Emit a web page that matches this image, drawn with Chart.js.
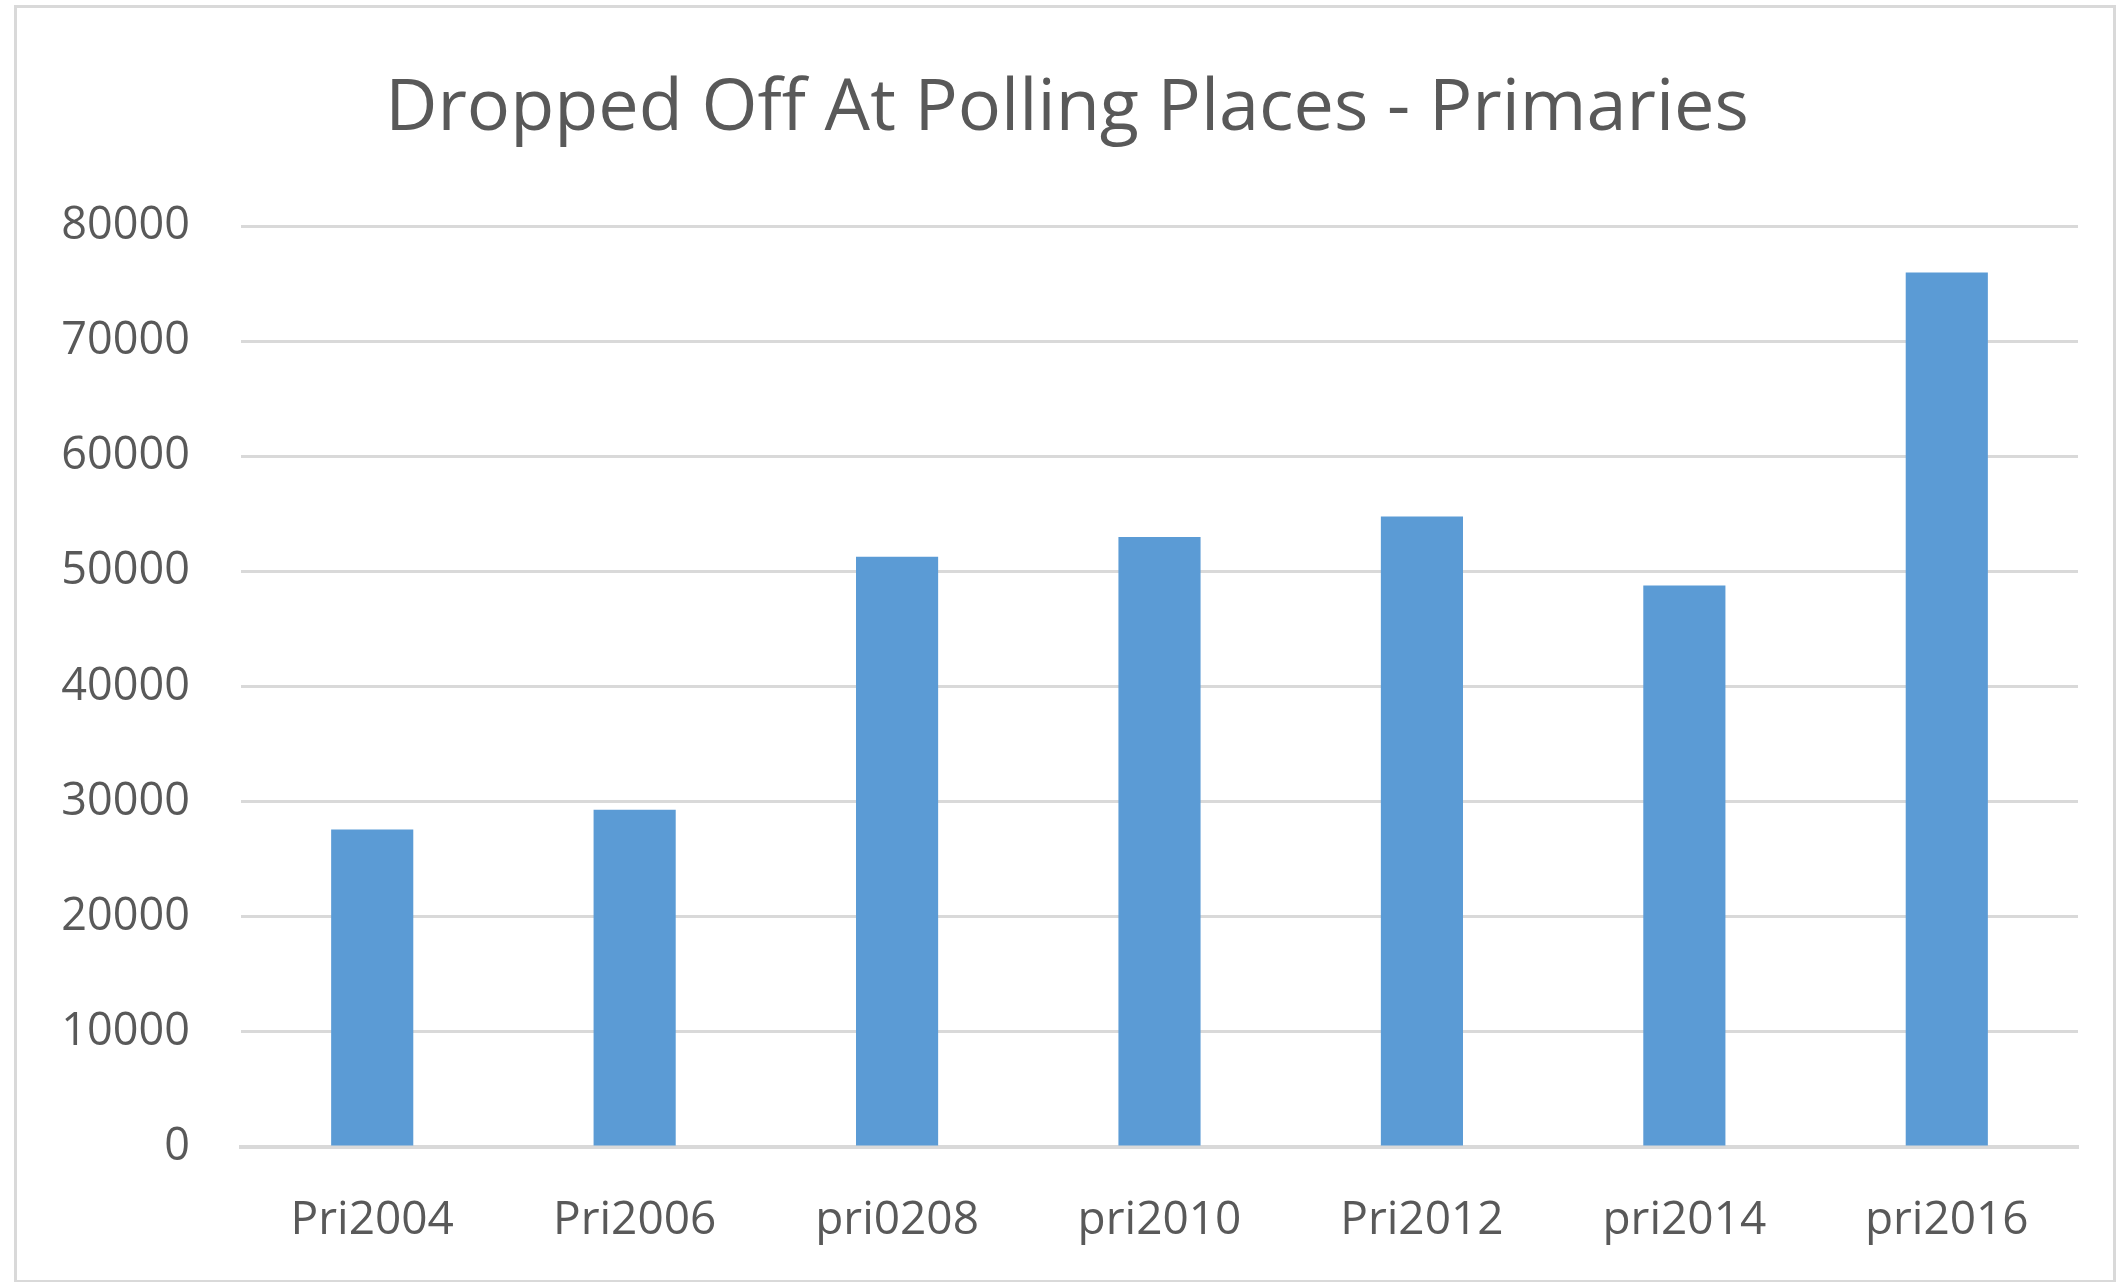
<!DOCTYPE html>
<html>
<head>
<meta charset="utf-8">
<script src="https://cdn.jsdelivr.net/npm/chart.js@4.4.1/dist/chart.umd.min.js"></script>
<style>
  html, body { margin: 0; padding: 0; background: #fff; }
  #wrap { position: relative; width: 2127px; height: 1282px; }
  #frame {
    position: absolute; left: 14px; top: 5px; width: 2096px; height: 1272px;
    border: 3px solid #d9d9d9; pointer-events: none;
  }
  canvas { position: absolute; left: 0; top: 0; }
</style>
</head>
<body>
<div id="wrap">
  <canvas id="chart" width="2127" height="1282"></canvas>
  <div id="frame"></div>
</div>
<script>
// Dropped Off At Polling Places - Primaries
const categories = ['Pri2004', 'Pri2006', 'pri0208', 'pri2010', 'Pri2012', 'pri2014', 'pri2016'];
const dropped = [27600, 29300, 51300, 53000, 54800, 48800, 76000];
const yTicks = [0, 10000, 20000, 30000, 40000, 50000, 60000, 70000, 80000];

const textColor = '#595959';
const gridColor = '#d9d9d9';
const fontFamily = '"Open Sans", "Noto Sans", sans-serif';

new Chart(document.getElementById('chart'), {
  type: 'bar',
  data: {
    labels: categories,
    datasets: [{
      label: 'Dropped Off',
      data: dropped,
      backgroundColor: '#5b9bd5',
      barPercentage: 0.313,
      categoryPercentage: 1,
    }]
  },
  options: {
    responsive: false,
    animation: false,
    layout: { padding: { left: 56, right: 49, top: 66, bottom: 25 } },
    plugins: {
      legend: { display: false },
      tooltip: { enabled: false },
      title: {
        display: true,
        text: 'Dropped Off At Polling Places - Primaries',
        color: textColor,
        font: { family: fontFamily, size: 72, weight: 'normal' },
        padding: { top: 0, bottom: 74 },
      },
    },
    scales: {
      x: {
        grid: { display: false },
        border: { display: true, color: gridColor, width: 4 },
        ticks: { color: textColor, font: { family: fontFamily, size: 46 }, padding: 38, maxRotation: 0 },
        afterFit: s => { s.height = 110; },
      },
      y: {
        min: 0,
        max: 80000,
        afterBuildTicks: s => { s.ticks = yTicks.map(v => ({ value: v })); },
        grid: { color: gridColor, lineWidth: 3, drawTicks: false },
        border: { display: false },
        ticks: {
          color: textColor,
          font: { family: fontFamily, size: 45 },
          padding: 51,
          callback: v => String(v),
        },
        afterFit: s => { s.width = 241 - 56; },
      },
    },
  },
});
</script>
</body>
</html>
